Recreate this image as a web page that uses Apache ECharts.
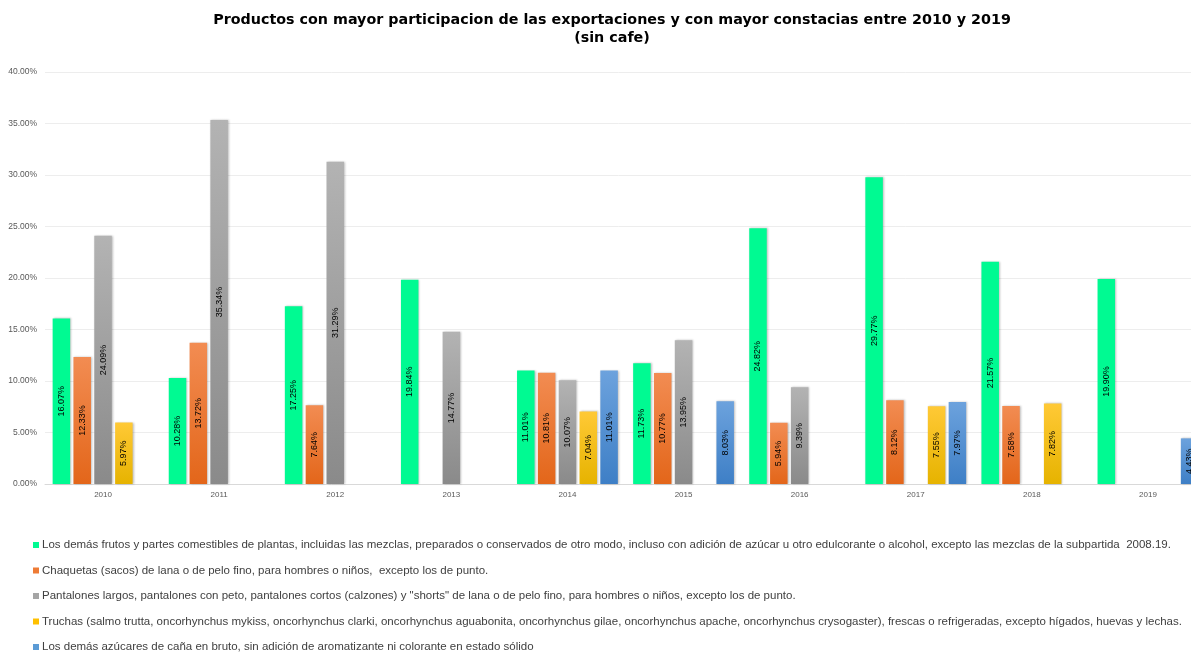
<!DOCTYPE html>
<html>
<head>
<meta charset="utf-8">
<script src="https://cdn.jsdelivr.net/npm/echarts@6/dist/echarts.min.js"></script>
<style>
html,body{margin:0;padding:0;background:#fff;}
#chart{width:1191px;height:653px;}
</style>
</head>
<body>
<div id="chart"></div>
<script>
const years = ['2010','2011','2012','2013','2014','2015','2016','2017','2018','2019'];
const seriesNames = [
  'Los demás frutos y partes comestibles de plantas, incluidas las mezclas, preparados o conservados de otro modo, incluso con adición de azúcar u otro edulcorante o alcohol, excepto las mezclas de la subpartida  2008.19.',
  'Chaquetas (sacos) de lana o de pelo fino, para hombres o niños,  excepto los de punto.',
  'Pantalones largos, pantalones con peto, pantalones cortos (calzones) y "shorts" de lana o de pelo fino, para hombres o niños, excepto los de punto.',
  'Truchas (salmo trutta, oncorhynchus mykiss, oncorhynchus clarki, oncorhynchus aguabonita, oncorhynchus gilae, oncorhynchus apache, oncorhynchus crysogaster), frescas o refrigeradas, excepto hígados, huevas y lechas.',
  'Los demás azúcares de caña en bruto, sin adición de aromatizante ni colorante en estado sólido'
];
const frutos     = [16.07, 10.28, 17.25, 19.84, 11.01, 11.73, 24.82, 29.77, 21.57, 19.90];
const chaquetas  = [12.33, 13.72, 7.64, null, 10.81, 10.77, 5.94, 8.12, 7.58, null];
const pantalones = [24.09, 35.34, 31.29, 14.77, 10.07, 13.95, 9.39, null, null, null];
const truchas    = [5.97, null, null, null, 7.04, null, null, 7.55, 7.82, null];
const azucares   = [null, null, null, null, 11.01, 8.03, null, 7.97, null, 4.43];
const yTicks = [0, 5, 10, 15, 20, 25, 30, 35, 40];

const grad = (top, bottom) => new echarts.graphic.LinearGradient(0, 0, 0, 1, [
  {offset: 0, color: top}, {offset: 1, color: bottom}
]);
const styles = [
  {color: '#00FA92', legend: '#00FA92'},
  {color: grad('#F28C52', '#E3661A'), legend: '#EE7B35'},
  {color: grad('#B3B3B3', '#8A8A8A'), legend: '#A5A5A5'},
  {color: grad('#FFC936', '#E6B300'), legend: '#FFC000'},
  {color: grad('#6CA2DD', '#3E7FC6'), legend: '#5B9BD5'}
];
const datasets = [frutos, chaquetas, pantalones, truchas, azucares];

const chart = echarts.init(document.getElementById('chart'));
chart.setOption({
  backgroundColor: '#ffffff',
  animation: false,
  title: {
    text: 'Productos con mayor participacion de las exportaciones y con mayor constacias entre 2010 y 2019\n(sin cafe)',
    left: 607,
    textAlign: 'center',
    top: 6,
    textStyle: {fontFamily: 'DejaVu Sans', fontWeight: 'bold', fontSize: 14.3, color: '#000', lineHeight: 18}
  },
  legend: {
    orient: 'vertical',
    left: 28,
    top: 533,
    height: 140,
    width: 1180,
    icon: 'rect',
    itemWidth: 6,
    itemHeight: 6,
    itemGap: 11.5,
    textStyle: {fontFamily: 'Liberation Sans', fontSize: 11.5, color: '#404040', lineHeight: 14, padding: [0,0,0,-2]},
    data: seriesNames.map((n, i) => ({name: n, itemStyle: {color: styles[i].legend}}))
  },
  grid: {left: 45, top: 72, width: 1161, height: 412, containLabel: false, outerBoundsMode: 'none'},
  xAxis: {
    type: 'category',
    data: years,
    axisLine: {lineStyle: {color: '#D9D9D9'}},
    axisTick: {show: false},
    axisLabel: {fontFamily: 'Liberation Sans', fontSize: 8, color: '#595959', margin: 7}
  },
  yAxis: {
    type: 'value',
    min: yTicks[0],
    max: yTicks[yTicks.length - 1],
    interval: 5,
    axisLine: {show: false},
    axisTick: {show: false},
    splitLine: {lineStyle: {color: '#EDEDED'}},
    axisLabel: {fontFamily: 'Liberation Sans', fontSize: 8.5, color: '#595959', margin: 8,
      formatter: v => v.toFixed(2) + '%'}
  },
  series: datasets.map((d, i) => ({
    name: seriesNames[i],
    type: 'bar',
    data: d,
    barWidth: 17.5,
    barGap: '19%',
    itemStyle: {
      color: styles[i].color,
      shadowColor: 'rgba(0,0,0,0.25)',
      shadowBlur: 2,
      shadowOffsetX: 1,
      shadowOffsetY: 0
    },
    label: {
      show: true,
      position: 'inside',
      rotate: 90,
      fontFamily: 'Liberation Sans Narrow, Liberation Sans',
      fontSize: 9,
      color: '#000',
      formatter: p => p.value.toFixed(2) + '%'
    }
  }))
});
</script>
</body>
</html>
